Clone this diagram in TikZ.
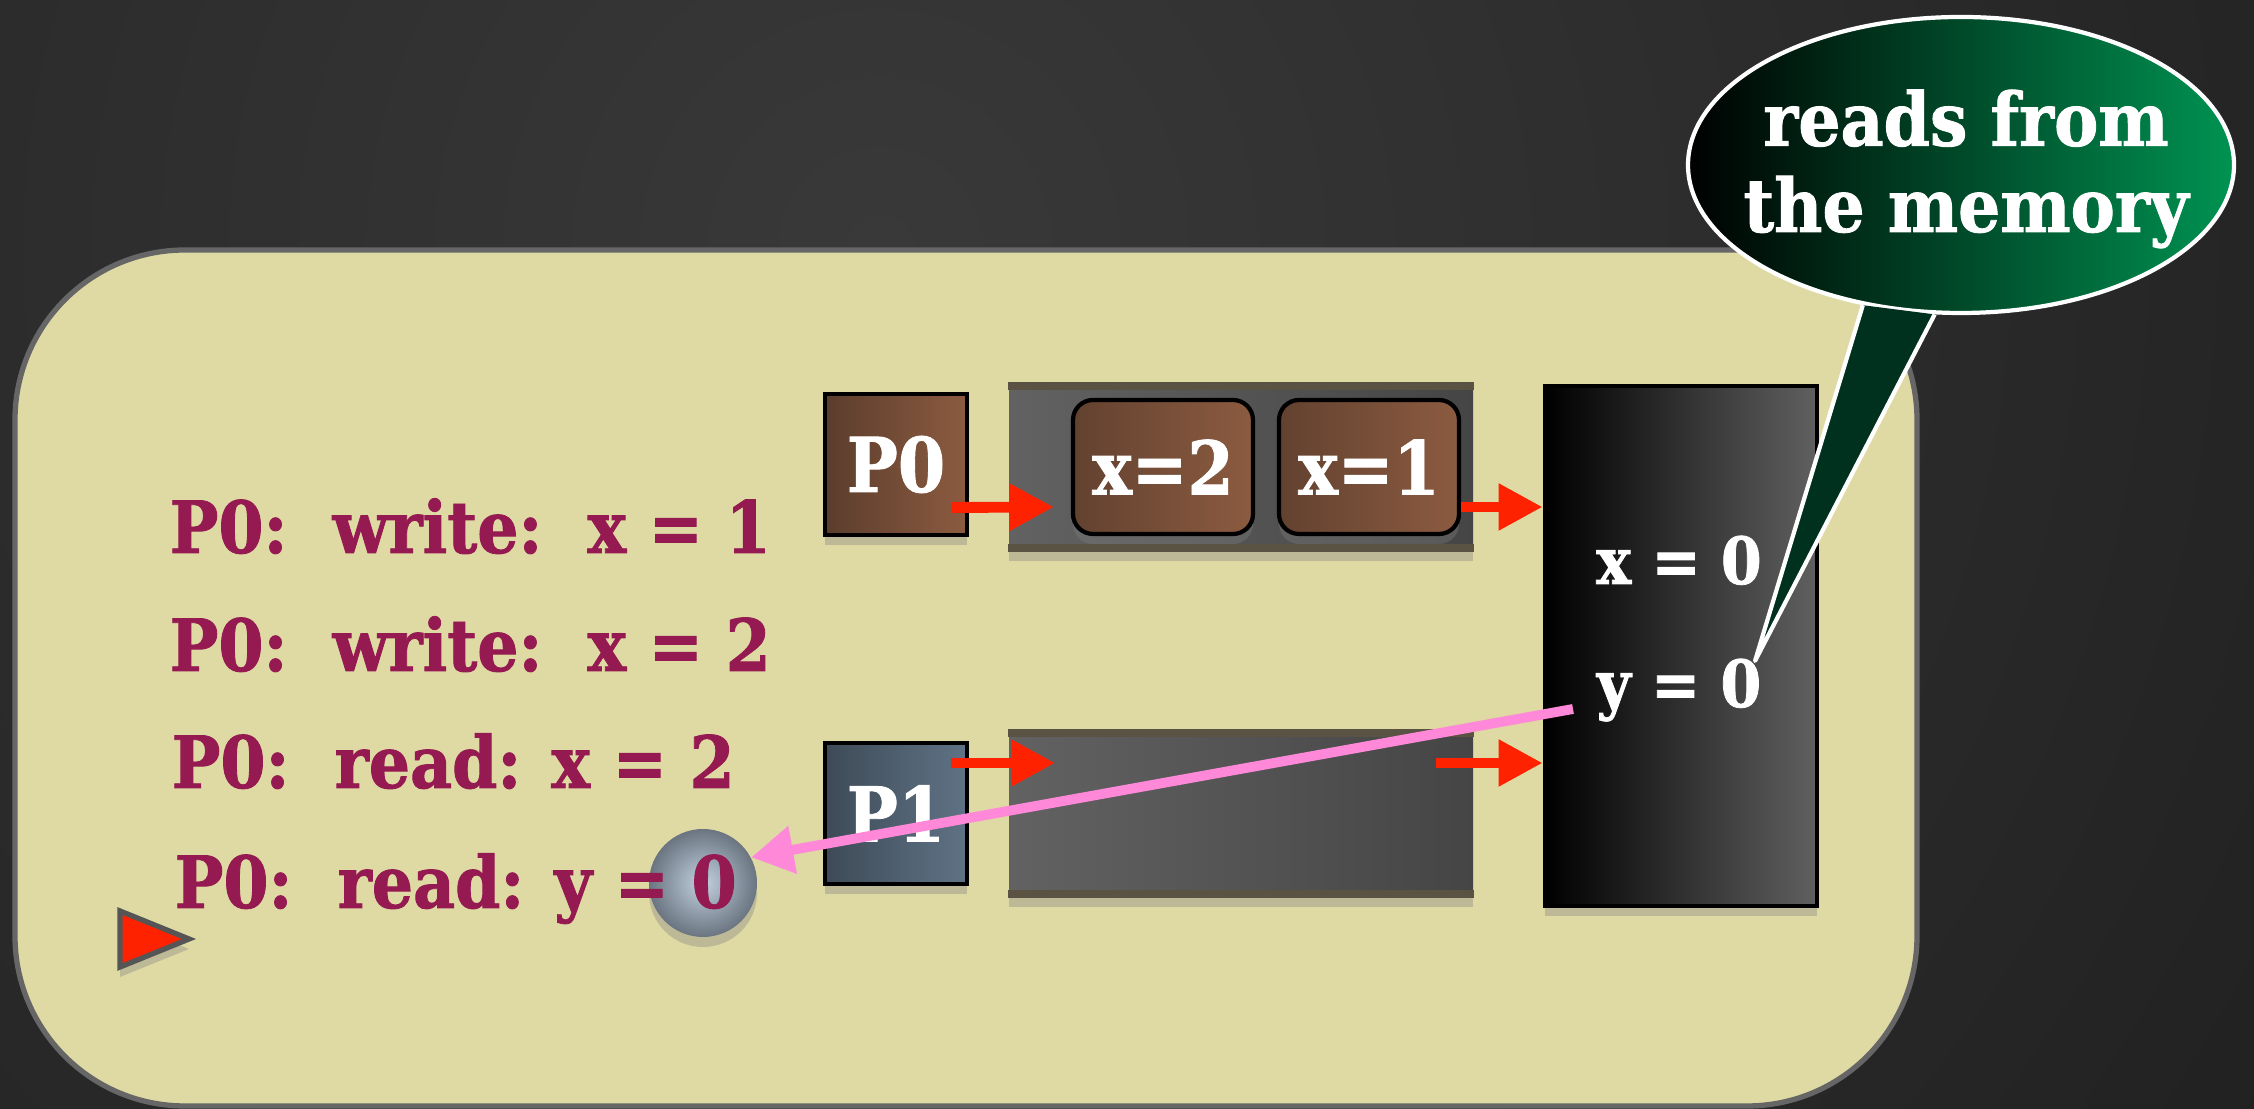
\documentclass[tikz,border=0pt]{standalone}
\usepackage{fontspec}
\usepackage{xcolor}
\usepackage{tikz}
\usetikzlibrary{shapes.geometric,arrows.meta,positioning,calc,shadows}
\newfontfamily\slab[FakeStretch=0.9, BoldFeatures={FakeBold=1.2}]{DejaVu Serif}

\definecolor{bgdark}{HTML}{161616}
\definecolor{bglight}{HTML}{393939}
\definecolor{panel}{HTML}{DFD9A3}
\definecolor{panelrim}{HTML}{666666}
\definecolor{tracecol}{HTML}{951A52}
\definecolor{redhead}{HTML}{FF2200}
\definecolor{pinkline}{HTML}{FF88D8}
\definecolor{brownL}{HTML}{5B3D2D}
\definecolor{brownR}{HTML}{8C5B40}
\definecolor{slateL}{HTML}{3E4A56}
\definecolor{slateR}{HTML}{5F7386}
\definecolor{queueL}{HTML}{626262}
\definecolor{queueR}{HTML}{454545}
\definecolor{stripcol}{HTML}{5A5242}
\definecolor{memR}{HTML}{606060}
\definecolor{ballin}{HTML}{C2D0DE}
\definecolor{ballout}{HTML}{6A7581}
\definecolor{greenR}{HTML}{009352}
\definecolor{tailcol}{HTML}{00301E}
\definecolor{tririm}{HTML}{555555}

\begin{document}
\begin{tikzpicture}[
    shadowed/.style={drop shadow={opacity=0.35, shadow xshift=0pt, shadow yshift=-0.1cm}},
    proc/.style={draw=black, line width=1.3pt, minimum width=1.42cm, minimum height=1.41cm,
        inner sep=0pt, text=white, font=\slab\bfseries\fontsize{21.5}{24}\selectfont, shadowed},
    queue/.style={minimum width=4.64cm, minimum height=1.68cm, inner sep=0pt,
        left color=queueL, right color=queueR, shadowed},
    wbox/.style={draw=black, line width=1.2pt, rounded corners=0.2cm, minimum width=1.8cm,
        minimum height=1.34cm, inner sep=0pt, left color=brownL!85!brownR, right color=brownR,
        text=white, font=\slab\bfseries\fontsize{21}{24}\selectfont, shadowed},
    memory/.style={draw=black, line width=1.3pt, minimum width=2.72cm, minimum height=5.2cm,
        left color=black, right color=memR, shadowed},
    memval/.style={anchor=base, inner sep=0pt, text=white, font=\slab\bfseries\fontsize{18.5}{21}\selectfont},
    trace/.style={anchor=base west, inner sep=0pt, text=tracecol, font=\slab\bfseries\fontsize{20.5}{24}\selectfont},
    red_arrow/.style={draw=redhead, line width=3.1pt, -{Triangle[length=4.4mm, width=4.4mm]}},
    pink_arrow/.style={draw=pinkline, line width=2.8pt, -{Triangle[length=4.2mm, width=4.6mm]}},
    bubble/.style={ellipse, minimum width=5.46cm, minimum height=2.96cm, inner sep=0pt,
        left color=black, right color=greenR, draw=white, line width=1.2pt},
    bubbletext/.style={text=white, align=center, inner sep=0pt,
        font=\slab\bfseries\fontsize{21}{24.5}\selectfont}
]

    \useasboundingbox (0,0) rectangle (22.54,11.09);
    \fill[bgdark] (0,0) rectangle (22.54,11.09);
    \begin{scope}
        \clip (0,0) rectangle (22.54,11.09);
        \shade[inner color=bglight, outer color=bgdark] (8.8,8.6) circle (24);
    \end{scope}

    \draw[panelrim, line width=1.5pt, fill=panel, rounded corners=1.7cm] (0.15,0.03) rectangle (19.17,8.59);

    \node[queue] (qtop) at (12.41,6.42) {};
    \node[queue] (qbot) at (12.41,2.955) {};
    \foreach \q in {qtop,qbot} {
        \fill[stripcol] (\q.north west) rectangle ([yshift=-0.08cm]\q.north east);
        \fill[stripcol] (\q.south west) rectangle ([yshift=0.08cm]\q.south east);
    }

    \node[proc, left color=brownL, right color=brownR] (p0) at (8.96,6.445) {P0};
    \node[proc, left color=slateL, right color=slateR] (p1) at (8.96,2.955) {P1};

    \node[wbox] (wx2) at (11.63,6.42) {x=2};
    \node[wbox] (wx1) at (13.69,6.42) {x=1};

    \node[memory] (mem) at (16.81,4.63) {};
    \node[memval] (xmem) at (16.79,5.25) {x = 0};
    \node[memval] (ymem) at (16.79,4.02) {y = 0};

    \node[trace] (t1) at (1.69,5.56) {P0:\ \ write:\ \ x = 1};
    \node[trace] (t2) at (1.69,4.38) {P0:\ \ write:\ \ x = 2};
    \node[trace] (t3) at (1.71,3.21) {P0:\ \ read: x = 2};
    \node[circle, minimum size=1.08cm, inner sep=0pt, inner color=ballin, outer color=ballout, shadowed] (ball) at (7.03,2.26) {};
    \node[trace] (t4) at (1.74,2.01) {P0:\ \ read: y = 0};

    \filldraw[fill=redhead, draw=tririm, line width=1.5pt, shadowed] (1.20,1.98) -- (1.89,1.70) -- (1.20,1.42) -- cycle;

    \draw[red_arrow] ($(p0.east)+(-0.18,-0.43)$) -- ($(wx2.west)+(-0.17,-0.40)$);
    \draw[red_arrow] ($(wx1.east)+(0,-0.40)$) -- ($(wx1.east -| mem.west)+(0,-0.40)$);
    \draw[red_arrow] ($(p1.east)+(-0.18,0.505)$) -- ($(qbot.west)+(0.47,0.505)$);
    \draw[red_arrow] ($(qbot.east)+(-0.38,0.505)$) -- ($(qbot.east -| mem.west)+(0,0.505)$);

    \coordinate (rd) at (15.73,4.00);
    \draw[pink_arrow] (rd) -- (ball.28);

    \node[bubble] (bubble) at (19.61,9.44) {};
    \node[bubbletext] (bubbletext) at (19.66,9.40) {reads from\\the memory};
    \coordinate (tip) at (17.55,4.48);
    \fill[tailcol] (bubble.235) -- (tip) -- (bubble.260) -- cycle;
    \draw[white, line width=1.2pt, line join=round] (bubble.235) -- (tip) -- (bubble.260);
\end{tikzpicture}
\end{document}
